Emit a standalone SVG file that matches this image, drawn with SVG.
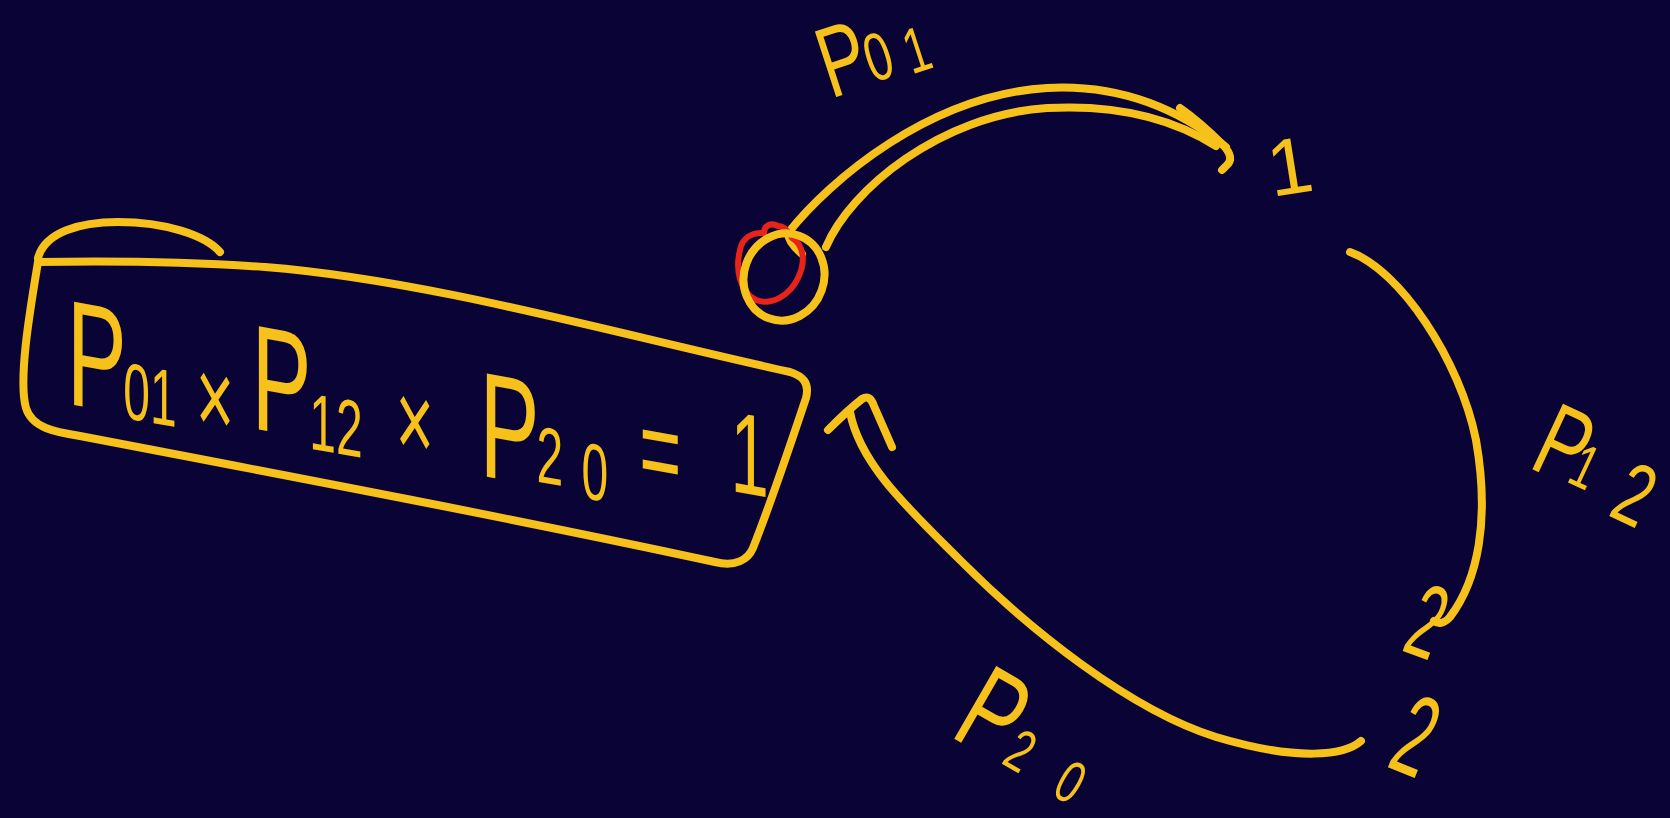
<svg xmlns="http://www.w3.org/2000/svg" width="1670" height="818" viewBox="0 0 1670 818">
<style>
.bg{fill:#0a0335}
.ln{fill:none;stroke:#f6c11a;stroke-width:8;stroke-linecap:round;stroke-linejoin:round}
.red{fill:none;stroke:#e8231a;stroke-width:6;stroke-linecap:round;stroke-linejoin:round}
.hw{fill:#f6c11a;font-family:"Liberation Sans",Arial,sans-serif}
</style>
<rect class="bg" x="0" y="0" width="1670" height="818"/>

<g id="connectors">
  <g id="edge-0-1">
    <path class="ln" d="M 802,254 Q 788,242 788,233 C 830,180 930,95 1047,88 C 1120,84 1180,110 1226,147"/>
    <path class="ln" d="M 826,247 C 850,190 940,115 1047,108 C 1120,104 1175,120 1216,146"/>
    <path class="ln" d="M 1180,108 Q 1200,122 1222,144 Q 1236,158 1226,166 L 1222,170"/>
  </g>
  <g id="edge-1-2">
    <path class="ln" d="M 1350,252 C 1400,270 1460,360 1476,440 C 1490,520 1478,580 1450,617 C 1444,624 1438,624 1434,621"/>
  </g>
  <g id="edge-2-0">
    <path class="ln" d="M 1361,741 C 1345,755 1300,762 1216,737 C 1130,710 1030,630 960,560 C 910,510 860,465 850,412"/>
    <path class="ln" d="M 828,430 Q 848,410 862,399 Q 870,394 874,406 L 892,447"/>
  </g>
</g>

<g id="node-0">
  <path class="red" d="M 778,226 C 770,222 764,226 764,233 C 752,232 742,238 740,250 C 735,270 740,292 756,300 C 772,306 790,295 798,278 C 806,262 804,245 792,238 C 788,230 784,226 778,226 Z"/>
  <ellipse class="ln" cx="784" cy="277" rx="40" ry="44" transform="rotate(20 784 277)"/>
</g>

<g id="node-1">
  <text class="hw" font-size="80" transform="translate(1272,197) rotate(-9)">1</text>
</g>

<g id="node-2">
  <text class="hw" font-size="105" transform="translate(1400,650) rotate(20) scale(0.55,1)">2</text>
  <text class="hw" font-size="115" transform="translate(1385,766) rotate(22) scale(0.55,1)">2</text>
</g>

<g id="label-p01">
  <text class="hw" transform="translate(836,97) rotate(-18) scale(0.7,1)"><tspan x="-8" y="0" font-size="100">P</tspan><tspan x="56" y="-2" font-size="68">0</tspan><tspan x="113" y="2" font-size="64">1</tspan></text>
</g>

<g id="label-p12">
  <text class="hw" transform="translate(1532,469) rotate(25) scale(0.7,1)"><tspan x="-8" y="0" font-size="105">P</tspan><tspan x="50" y="-3" font-size="62">1</tspan><tspan x="124" y="10" font-size="88">2</tspan></text>
</g>

<g id="label-p20">
  <text class="hw" transform="translate(953,738) rotate(30) scale(0.7,1)"><tspan x="-8" y="0" font-size="122">P</tspan><tspan x="76" y="-2" font-size="60">2</tspan><tspan x="160" y="0" font-size="60">0</tspan></text>
</g>

<g id="equation-box">
  <path class="ln" d="M 38,262 C 30,310 18,380 26,408 C 32,428 55,432 80,436 C 300,478 520,520 715,562 C 735,567 748,560 753,548 C 772,500 792,440 806,398 C 810,382 802,376 790,372 C 620,335 430,280 265,267 C 180,261 100,261 38,262 Z"/>
  <path class="ln" d="M 38,258 C 45,232 80,222 118,222 C 165,222 205,235 220,252"/>
  <text class="hw" transform="translate(74,405) skewY(10) scale(0.6,1)"><tspan x="-12" y="0" font-size="150">P</tspan><tspan x="82" y="4" font-size="80">01</tspan><tspan x="203" y="6" font-size="110">×</tspan><tspan x="296" y="-8" font-size="150">P</tspan><tspan x="392" y="2" font-size="80">12</tspan><tspan x="536" y="-6" font-size="110">×</tspan><tspan x="676" y="-1" font-size="150">P</tspan><tspan x="771" y="-5" font-size="80">2</tspan><tspan x="846" y="3" font-size="80">0</tspan><tspan x="942" y="-17" font-size="120">=</tspan><tspan x="1094" y="-30" font-size="115">1</tspan></text>
</g>
</svg>
